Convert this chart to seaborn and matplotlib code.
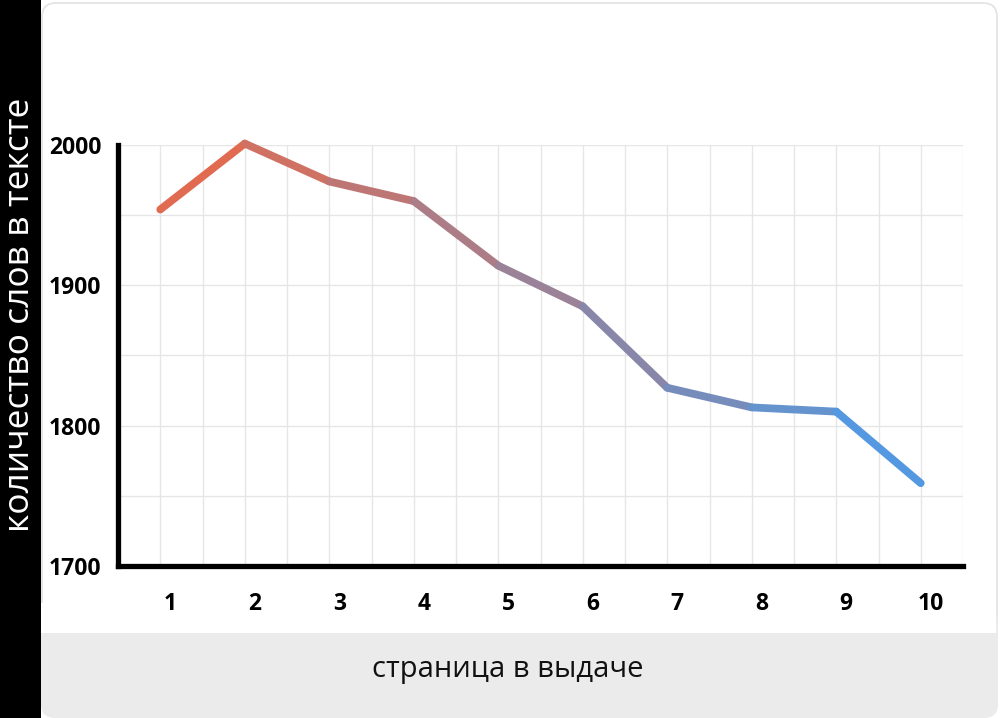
"""Word count by search results page: gradient line chart."""

import matplotlib.pyplot as plt
import numpy as np
import pandas as pd
import seaborn as sns
from matplotlib.patches import FancyBboxPatch, Rectangle
from matplotlib.transforms import ScaledTranslation
from matplotlib.ticker import MultipleLocator

pages = [1, 2, 3, 4, 5, 6, 7, 8, 9, 10]
words = [1954, 2001, 1974, 1960, 1914, 1885, 1827, 1813, 1810, 1759]
y_ticks = [1700, 1800, 1900, 2000]

df = pd.DataFrame({"page": pages, "words": words})

sns.set_theme(style="white")
plt.rcParams["font.family"] = ["Open Sans", "DejaVu Sans"]

fig = plt.figure(figsize=(10, 7.18), dpi=100)
fig.patch.set_facecolor("white")
inch = fig.dpi_scale_trans

# background: white card, grey footer, black side band
fig.patches.append(FancyBboxPatch((0.42, 0.02), 9.55, 7.13,
                                  boxstyle="round,pad=0,rounding_size=0.14",
                                  transform=inch, facecolor="white",
                                  edgecolor="#e2e2e2", lw=1.2, zorder=-3))
fig.patches.append(FancyBboxPatch((0.41, 0.0), 9.57, 1.1,
                                  boxstyle="round,pad=0,rounding_size=0.14",
                                  transform=inch, facecolor="#ebebeb",
                                  edgecolor="none", zorder=-2))
fig.patches.append(Rectangle((0.41, 0.85), 9.55, 0.3, transform=inch,
                             facecolor="white", edgecolor="none", zorder=-1.5))
fig.patches.append(Rectangle((0, 0), 0.41, 7.18, transform=inch,
                             facecolor="black", edgecolor="none", zorder=-1))

ax = fig.add_axes([0.118, 0.2117, 0.845, 0.5864])
ax.set_facecolor("white")

# gradient from orange-red to blue, one colour per segment
c0 = np.array([234, 104, 72]) / 255
c1 = np.array([74, 155, 233]) / 255
n = len(pages)
for i in range(n - 1):
    t = (i + 0.5) / (n - 1)
    col = c0 + (c1 - c0) * t
    sns.lineplot(data=df.iloc[i:i + 2], x="page", y="words", color=col,
                 lw=5.6, solid_capstyle="round", ax=ax, clip_on=False, zorder=3)

ax.set_xlim(0.5, 10.5)
ax.set_ylim(1700, 2000)
ax.set_xticks(pages)
ax.set_yticks(y_ticks)
ax.xaxis.set_minor_locator(MultipleLocator(0.5))
ax.yaxis.set_minor_locator(MultipleLocator(50))
ax.grid(True, which="both", color="#e6e6e6", lw=1)
ax.set_axisbelow(True)

for side in ["top", "right"]:
    ax.spines[side].set_visible(False)
for side in ["left", "bottom"]:
    ax.spines[side].set_color("black")
    ax.spines[side].set_linewidth(3.8)

ax.tick_params(axis="both", which="both", length=0, labelcolor="black")
ax.tick_params(axis="x", pad=19)
ax.tick_params(axis="y", pad=12)
ax.set_xticklabels([str(p) for p in pages], fontsize=16.5, fontweight="bold")
ax.set_yticklabels([str(v) for v in y_ticks], fontsize=16.5, fontweight="bold")
shift = ScaledTranslation(0.1, 0, inch)
for lab in ax.get_xticklabels():
    lab.set_transform(lab.get_transform() + shift)

ax.set_xlabel("страница в выдаче", fontsize=21, color="#111111")
ax.xaxis.set_label_coords(0.508, 0.067, transform=fig.transFigure)
ax.xaxis.label.set_va("center")
ax.set_ylabel("количество слов в тексте", fontsize=25.5, color="white")
ax.yaxis.set_label_coords(0.02, 0.561, transform=fig.transFigure)
ax.yaxis.label.set_va("center")

fig.savefig("out.png", dpi=100)
print("Saved out.png")
